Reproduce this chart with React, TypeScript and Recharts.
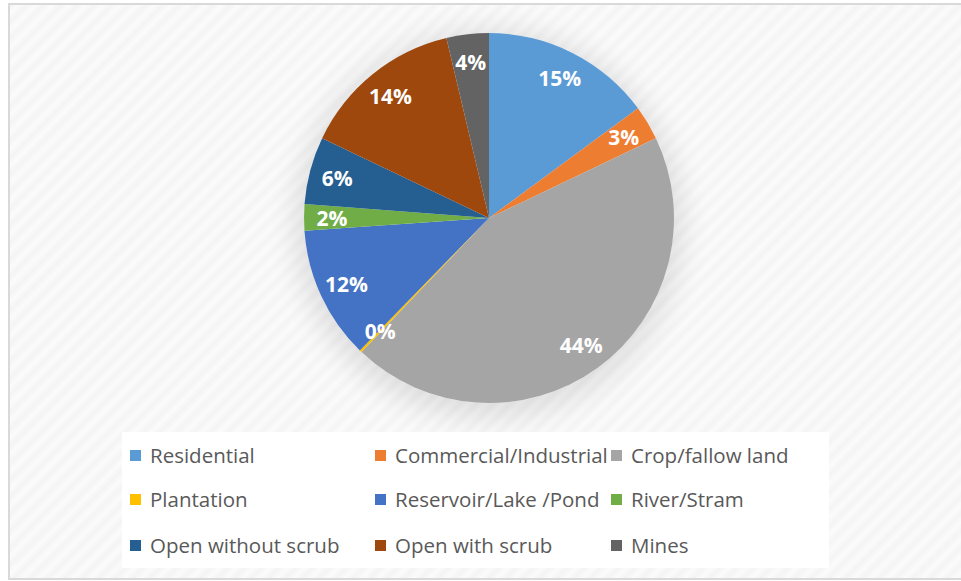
import { PieChart, Pie, Cell, Legend } from 'recharts';

const categories = [
  'Residential', 'Commercial/Industrial', 'Crop/fallow land',
  'Plantation', 'Reservoir/Lake /Pond', 'River/Stram',
  'Open without scrub', 'Open with scrub', 'Mines',
];
const shares = [14.9, 3.0, 44.2, 0.2, 11.6, 2.3, 5.9, 14.2, 3.7];
const colors = [
  '#5B9BD5', '#ED7D31', '#A5A5A5',
  '#FFC000', '#4472C4', '#70AD47',
  '#255E91', '#9E480E', '#636363',
];

const data = categories.map((name, i) => ({ name, value: shares[i] }));

const RAD = Math.PI / 180;
const FONT = '"Open Sans", Lato, sans-serif';

const renderLabel = (props: any) => {
  const { cx, cy, midAngle, percent } = props;
  const r = 157;
  const x = cx + r * Math.cos(-midAngle * RAD);
  const y = cy + r * Math.sin(-midAngle * RAD);
  return (
    <text x={x} y={y} fill="#fff" textAnchor="middle" dominantBaseline="central"
      fontFamily={FONT} fontWeight="bold" fontSize={21}>
      {`${Math.round(percent * 100)}%`}
    </text>
  );
};

const colX = [8, 253, 489];
const rowY = [23, 67, 113];

const renderLegend = () => (
  <div style={{ position: 'relative', width: 707, height: 136, background: '#fff' }}>
    {categories.map((name, i) => (
      <div key={name} style={{
        position: 'absolute', left: colX[i % 3], top: rowY[Math.floor(i / 3)] - 14,
        height: 28, display: 'flex', alignItems: 'center', whiteSpace: 'nowrap',
      }}>
        <span style={{ width: 11, height: 11, background: colors[i], display: 'inline-block', marginRight: 9 }} />
        <span style={{ fontFamily: FONT, fontSize: 20.5, color: '#595959' }}>{name}</span>
      </div>
    ))}
  </div>
);

export default function App() {
  return (
    <div style={{ position: 'absolute', left: 0, top: 0, width: 961, height: 581, overflow: 'hidden', background: '#fff' }}>
      <div style={{
        position: 'absolute', left: 8, top: 3, width: 980, height: 573,
        border: '2px solid #d9d9d9',
        background: 'repeating-linear-gradient(135deg, #f4f4f4 0px, #fbfbfb 6px, #f4f4f4 12px)',
      }} />
      <div style={{
        position: 'absolute', left: 489 - 185, top: 218 - 185, width: 370, height: 370,
        borderRadius: '50%', boxShadow: '0 6px 28px 10px rgba(0,0,0,0.10)',
      }} />
      <div style={{ position: 'absolute', left: 0, top: 0 }}>
        <PieChart width={961} height={581} margin={{ top: 0, right: 0, bottom: 0, left: 0 }}>
          <Pie data={data} dataKey="value" nameKey="name" cx={489} cy={218}
            outerRadius={185} startAngle={90} endAngle={-270} stroke="none"
            label={renderLabel} labelLine={false} isAnimationActive={false}>
            {data.map((d, i) => <Cell key={d.name} fill={colors[i]} />)}
          </Pie>
          <Legend content={renderLegend}
            wrapperStyle={{ position: 'absolute', left: 122, top: 432, width: 707, height: 136 }} />
        </PieChart>
      </div>
    </div>
  );
}
